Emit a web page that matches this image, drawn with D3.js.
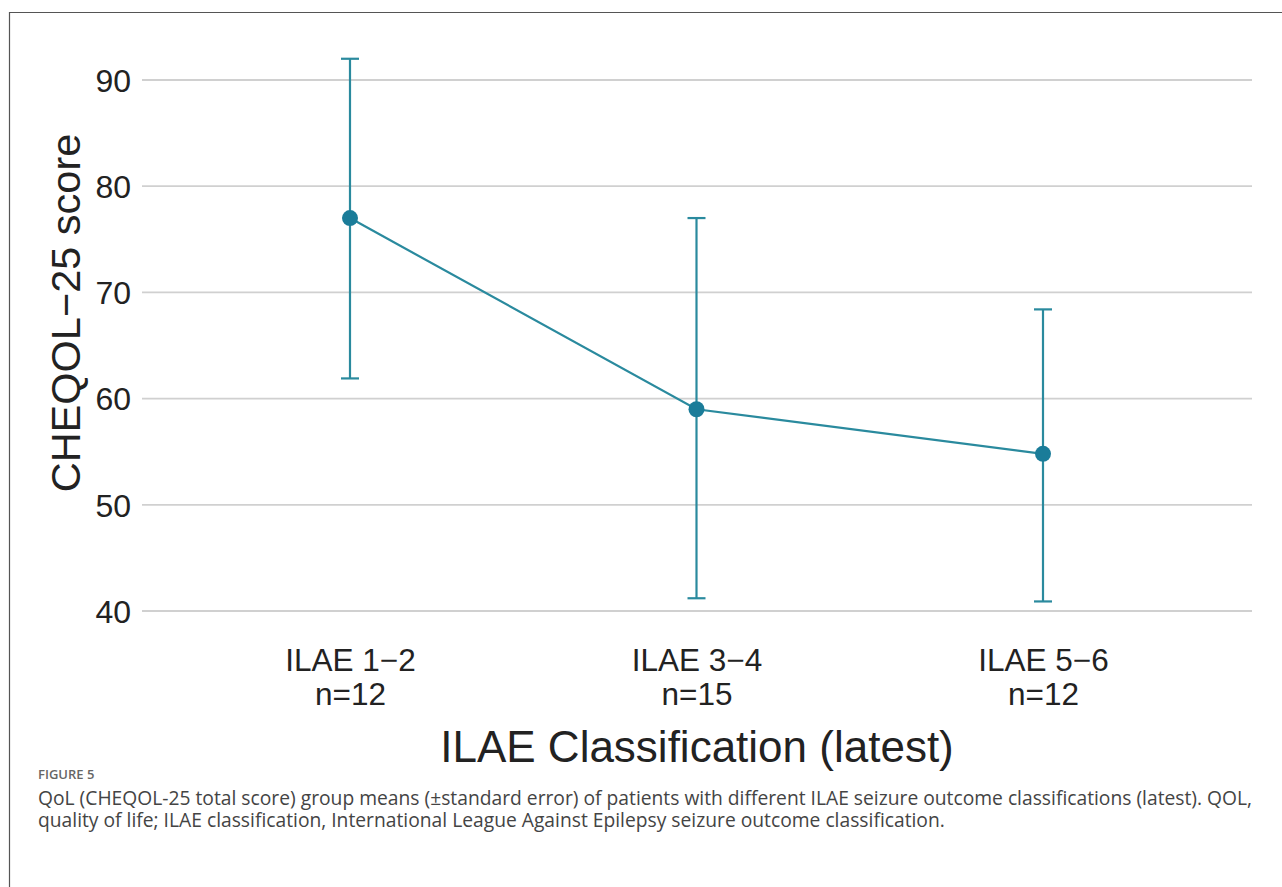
<!DOCTYPE html>
<html><head><meta charset="utf-8">
<script src="https://cdn.jsdelivr.net/npm/d3@7"></script>
<style>
html,body{margin:0;padding:0;background:#fff;}
svg{display:block;}
</style></head>
<body>
<svg id="chart" width="1282" height="887"></svg>
<script>
const categories = ["ILAE 1\u22122", "ILAE 3\u22124", "ILAE 5\u22126"];
const groupN = ["n=12", "n=15", "n=12"];
const means = [77.0, 59.0, 54.8];
const upper = [92.0, 77.0, 68.4];
const lower = [61.9, 41.2, 40.9];
const yTicks = [40, 50, 60, 70, 80, 90];
const captionLines = [
  "QoL (CHEQOL-25 total score) group means (\u00b1standard error) of patients with different ILAE seizure outcome classifications (latest). QOL,",
  "quality of life; ILAE classification, International League Against Epilepsy seizure outcome classification."
];

const svg = d3.select("#chart");
const color = "#2a8a9e";
const dotColor = "#1a7c99";
const font = "Liberation Sans, Arial, sans-serif";

// frame
svg.append("path").attr("d", "M9.5,887 L9.5,12.5 L1282,12.5")
  .attr("fill","none").attr("stroke","#555").attr("stroke-width",1.2);

const x = d3.scalePoint().domain(categories).range([350, 1043]);
const y = d3.scaleLinear().domain([40, 90]).range([611, 80]);

// grid
svg.append("g").selectAll("line").data(yTicks).join("line")
  .attr("x1",142).attr("x2",1252)
  .attr("y1",d=>y(d)).attr("y2",d=>y(d))
  .attr("stroke","#d0d0d0").attr("stroke-width",1.8);

// y axis
const yAxis = d3.axisLeft(y).tickValues(yTicks).tickSize(0).tickPadding(0);
const gy = svg.append("g").attr("transform","translate(131,0)").call(yAxis);
gy.select(".domain").remove();
gy.selectAll("text").attr("font-family",font)
  .attr("font-size",32).attr("fill","#222").attr("dy","0.35em");

// x axis labels
const xAxis = d3.axisBottom(x).tickSize(0).tickPadding(0).tickFormat(()=>"");
const gx = svg.append("g").attr("transform","translate(0,611)").call(xAxis);
gx.select(".domain").remove();
gx.selectAll(".tick").each(function(d,i){
  const t = d3.select(this).append("text")
    .attr("font-family",font)
    .attr("font-size",31.5).attr("fill","#222").attr("text-anchor","middle");
  t.append("tspan").attr("x",0).attr("y",60).text(d);
  t.append("tspan").attr("x",0).attr("y",94).text(groupN[i]);
});

// axis titles
svg.append("text").attr("x",697).attr("y",762).attr("text-anchor","middle")
  .attr("font-family",font).attr("font-size",44).attr("fill","#222")
  .text("ILAE Classification (latest)");
svg.append("text").attr("transform","translate(80,313) rotate(-90)").attr("text-anchor","middle")
  .attr("font-family",font).attr("font-size",41.5).attr("fill","#222")
  .text("CHEQOL\u221225 score");

// data
const data = categories.map((c,i)=>({c, m:means[i], hi:upper[i], lo:lower[i]}));
const g = svg.append("g");
g.selectAll("line.err").data(data).join("line").attr("class","err")
  .attr("x1",d=>x(d.c)).attr("x2",d=>x(d.c))
  .attr("y1",d=>y(d.hi)).attr("y2",d=>y(d.lo))
  .attr("stroke",color).attr("stroke-width",2.2);
["hi","lo"].forEach(k=>{
  g.selectAll("line.cap"+k).data(data).join("line").attr("class","cap"+k)
    .attr("x1",d=>x(d.c)-9).attr("x2",d=>x(d.c)+9)
    .attr("y1",d=>y(d[k])).attr("y2",d=>y(d[k]))
    .attr("stroke",color).attr("stroke-width",2.2);
});
g.append("path").datum(data)
  .attr("d", d3.line().x(d=>x(d.c)).y(d=>y(d.m)))
  .attr("fill","none").attr("stroke",color).attr("stroke-width",2.2);
g.selectAll("circle").data(data).join("circle")
  .attr("cx",d=>x(d.c)).attr("cy",d=>y(d.m)).attr("r",8)
  .attr("fill",dotColor);

// caption
svg.append("text").attr("x",38).attr("y",779)
  .attr("font-family","Open Sans, sans-serif").attr("font-size",13).attr("font-weight",600)
  .attr("fill","#666").text("FIGURE 5");
const cap = svg.append("text")
  .attr("font-family","Open Sans, sans-serif").attr("font-size",19.25)
  .attr("fill","#444");
captionLines.forEach((l,i)=>{
  cap.append("tspan").attr("x",38).attr("y",805+i*22).text(l);
});
</script>
</body></html>
